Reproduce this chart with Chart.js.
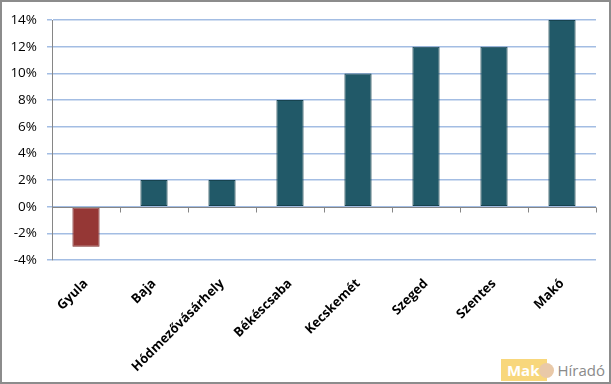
<!DOCTYPE html>
<html>
<head>
<meta charset="utf-8">
<script src="https://cdn.jsdelivr.net/npm/chart.js@4"></script>
<style>
  html, body { margin: 0; padding: 0; background: #fff; }
  #wrap { position: relative; width: 611px; height: 384px; box-sizing: border-box; border: 2px solid #8c8c8c; }
  #wrap canvas { display: block; }
  #logo { position: absolute; right: 2px; bottom: 1px; height: 22px; font-family: "Open Sans", sans-serif; font-size: 15px; line-height: 22px; display: flex; }
  #logo .mak { background: #f8d77c; color: #fff; font-weight: bold; padding: 0 8px 0 6px; }
  #logo .onion { width: 15px; height: 15px; margin: 4px 1px 0 -8px; border-radius: 50%; background: #e9c9a8; }
  #logo .hir { color: #8a8a8a; background: #fff; padding: 0 2px; }
</style>
</head>
<body>
<div id="wrap">
  <canvas id="chart" width="607" height="380"></canvas>
  <div id="logo"><span class="mak">Mak</span><span class="onion"></span><span class="hir">Híradó</span></div>
</div>
<script>
const cities = ["Gyula", "Baja", "Hódmezővásárhely", "Békéscsaba", "Kecskemét", "Szeged", "Szentes", "Makó"]
const changes = [-3, 2, 2, 8, 10, 12, 12, 14]
const yMin = -4
const yMax = 14
const yStep = 2

// small tick marks on the zero line between categories, plus the zero axis line
const zeroAxis = {
  id: "zeroAxis",
  afterDatasetsDraw(chart) {
    const { ctx, scales: { x, y }, chartArea } = chart
    const y0 = Math.round(y.getPixelForValue(0)) + 0.5
    ctx.save()
    ctx.strokeStyle = "#868686"
    ctx.lineWidth = 1
    ctx.beginPath()
    ctx.moveTo(chartArea.left, y0)
    ctx.lineTo(chartArea.right, y0)
    for (let i = 0; i <= cities.length; i++) {
      const px = i < cities.length
        ? x.getPixelForTick(i) - (x.getPixelForTick(1) - x.getPixelForTick(0)) / 2
        : chartArea.right
      const rx = Math.round(px) + 0.5
      ctx.moveTo(rx, y0)
      ctx.lineTo(rx, y0 + 5)
    }
    ctx.stroke()
    ctx.restore()
  }
}

new Chart(document.getElementById("chart"), {
  type: "bar",
  data: {
    labels: cities,
    datasets: [
      {
        data: changes,
        backgroundColor: changes.map((v) => (v < 0 ? "#953735" : "#215968")),
        borderColor: changes.map((v) => (v < 0 ? "#7a2c2a" : "#17434f")),
        borderWidth: 1,
        borderSkipped: false,
        barPercentage: 0.4,
        categoryPercentage: 1,
      },
    ],
  },
  options: {
    responsive: false,
    animation: false,
    layout: { padding: { top: 15, right: 13, left: 0, bottom: 0 } },
    plugins: {
      legend: { display: false },
      tooltip: { enabled: false },
    },
    scales: {
      x: {
        grid: { display: false, drawTicks: false },
        border: { display: false },
        ticks: {
          color: "#000",
          font: { family: "Open Sans", size: 13, weight: "bold" },
          maxRotation: 45,
          minRotation: 45,
          autoSkip: false,
          padding: 16,
        },
        afterFit: (scale) => { scale.height = 122 },
      },
      y: {
        min: yMin,
        max: yMax,
        grid: { color: "#a3bde3", lineWidth: 1.5, tickLength: 5 },
        border: { color: "#868686" },
        ticks: {
          stepSize: yStep,
          color: "#000",
          font: { family: "Open Sans", size: 13.5 },
          padding: 10,
          callback: (v) => v + "%",
        },
        afterFit: (scale) => { scale.width = 50 },
      },
    },
  },
  plugins: [zeroAxis],
})
</script>
</body>
</html>
